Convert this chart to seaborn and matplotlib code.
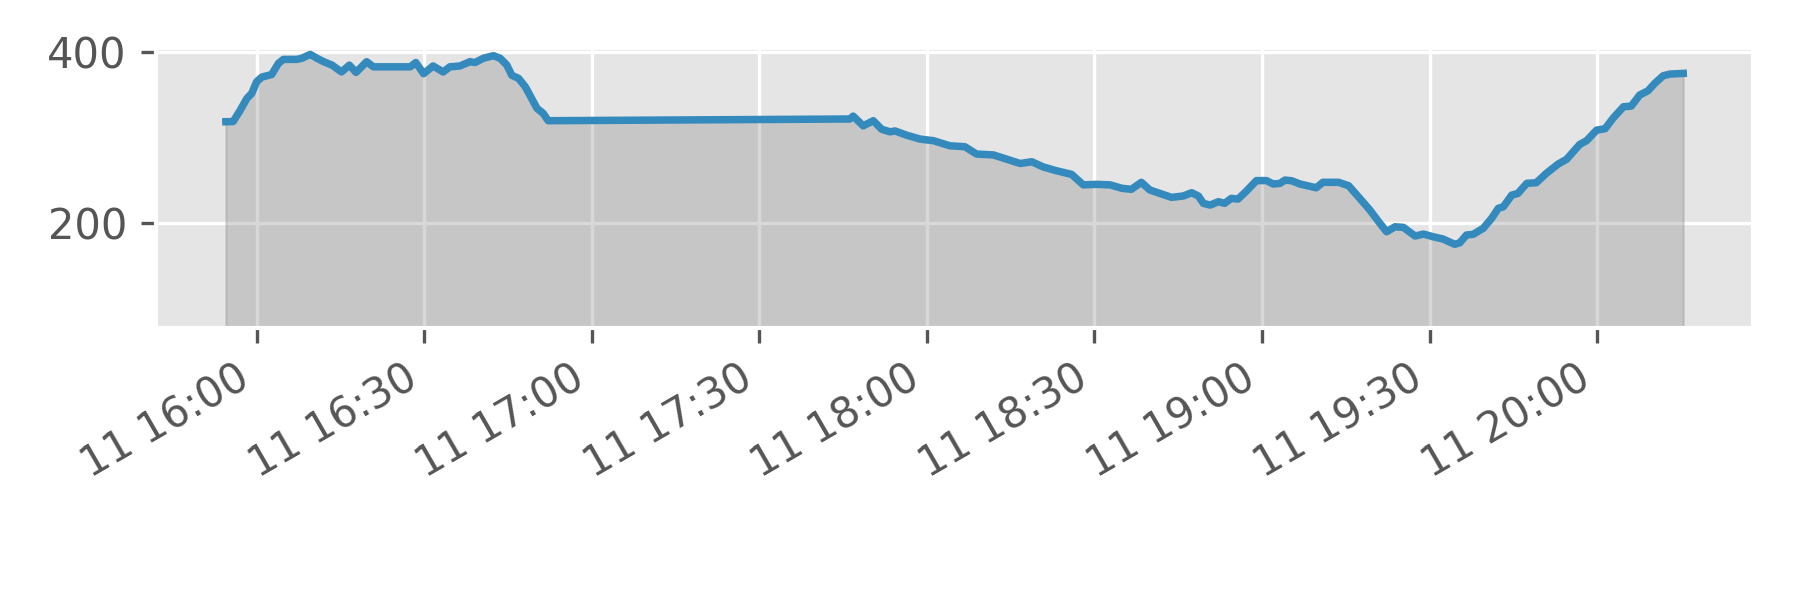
import matplotlib
matplotlib.use("Agg")
import matplotlib.pyplot as plt
import matplotlib.dates as mdates
import seaborn as sns
import pandas as pd

# ---- data ----
day = "2016-03-11"
times = [
    "15:54:30", "15:55:48", "15:57:03", "15:58:15", "15:59:08", "16:00:00", "16:00:56",
    "16:02:42", "16:03:54", "16:04:48", "16:07:12", "16:08:06", "16:09:36", "16:10:48",
    "16:12:00", "16:13:30", "16:15:12", "16:16:36", "16:17:48", "16:19:42", "16:20:54",
    "16:27:30", "16:28:30", "16:29:54", "16:31:36", "16:33:24", "16:34:36", "16:36:24",
    "16:38:12", "16:39:06", "16:40:36", "16:42:24", "16:43:36", "16:44:48", "16:45:42",
    "16:46:54", "16:48:06", "16:50:12", "16:51:18", "16:52:12",
    "17:46:12", "17:46:48", "17:48:36", "17:50:24", "17:51:54", "17:53:24", "17:54:18",
    "17:56:24", "17:58:48", "18:01:12", "18:04:06", "18:06:48", "18:08:54", "18:11:54",
    "18:14:18", "18:16:42", "18:18:48", "18:20:48", "18:23:12", "18:25:54", "18:28:00",
    "18:30:24", "18:32:48", "18:34:54", "18:36:36", "18:38:24", "18:39:54", "18:41:42",
    "18:43:48", "18:45:54", "18:47:24", "18:48:36", "18:49:30", "18:50:42", "18:52:12",
    "18:53:18", "18:54:30", "18:55:42", "18:57:12", "18:59:00", "19:00:48", "19:02:00",
    "19:03:12", "19:04:06", "19:05:18", "19:06:48", "19:09:42", "19:10:54", "19:13:42",
    "19:15:30", "19:17:30", "19:19:18", "19:21:06", "19:22:18", "19:23:48", "19:25:18",
    "19:27:24", "19:28:54", "19:30:36", "19:32:24", "19:34:30", "19:35:24", "19:36:36",
    "19:37:48", "19:39:36", "19:41:06", "19:42:18", "19:43:12", "19:44:42", "19:45:48",
    "19:47:24", "19:49:06", "19:50:54", "19:53:00", "19:54:30", "19:56:54", "19:58:06",
    "19:59:54", "20:01:24", "20:02:54", "20:04:42", "20:06:06", "20:07:36", "20:09:06",
    "20:10:18", "20:11:48", "20:13:00", "20:15:24",
]
values = [
    318.8, 319, 332, 346, 352, 365.5, 371,
    374, 387, 391.7, 391.7, 393, 397.5, 393,
    389, 385, 377, 385, 376.5, 389, 383,
    383, 388, 375, 384, 377, 383, 384,
    389, 388, 393, 396, 393, 385, 373,
    369.5, 359.7, 334.4, 328.6, 320,
    322, 325.4, 314, 320, 310, 307, 308,
    303, 298.5, 296.6, 290.7, 289.6, 281, 280,
    275, 270, 272, 266, 261.5, 257.3, 245,
    245.6, 245, 241, 239.8, 248, 239, 235,
    230.4, 232, 235.8, 232, 223.4, 221.4, 225.3,
    223.4, 229.2, 228.4, 237.7, 250, 250, 246,
    246.7, 250.6, 249.8, 246, 241.6, 248, 248,
    244, 229.2, 215.6, 200, 190.2, 196, 195.3,
    185.2, 187.5, 184.4, 181.7, 175.5, 177.3, 186.4,
    187.2, 194.2, 205.9, 217.6, 219.4, 233, 235,
    246.8, 247.5, 258.5, 269.3, 274.8, 292.4, 296.6,
    309, 310.6, 323.4, 336.3, 337.1, 350, 355,
    363.6, 372.5, 374.5, 375.3,
]
ytick_values = [200, 400]
x_range = ("15:42:00", "20:27:50")
y_range = (78, 405)

df = pd.DataFrame({"time": pd.to_datetime([f"{day} {t}" for t in times]),
                   "value": values})

plt.style.use("ggplot")
fig, ax = plt.subplots(figsize=(6, 2), dpi=300)
fig.subplots_adjust(left=0.0867, right=0.9737, top=0.92, bottom=0.4538)

ax.fill_between(df["time"], df["value"], 0, color="gray", alpha=0.3)
sns.lineplot(data=df, x="time", y="value", ax=ax, color="#348ABD", linewidth=1.8)

ax.set_xlim(pd.Timestamp(f"{day} {x_range[0]}"), pd.Timestamp(f"{day} {x_range[1]}"))
ax.set_ylim(*y_range)
ax.set_yticks(ytick_values)
ax.xaxis.set_major_locator(mdates.MinuteLocator(byminute=[0, 30]))
ax.xaxis.set_major_formatter(mdates.DateFormatter("%d %H:%M"))
ax.set_xlabel("")
ax.set_ylabel("")
for lbl in ax.get_xticklabels():
    lbl.set_rotation(30)
    lbl.set_ha("right")

fig.savefig("out.png", dpi=300)
